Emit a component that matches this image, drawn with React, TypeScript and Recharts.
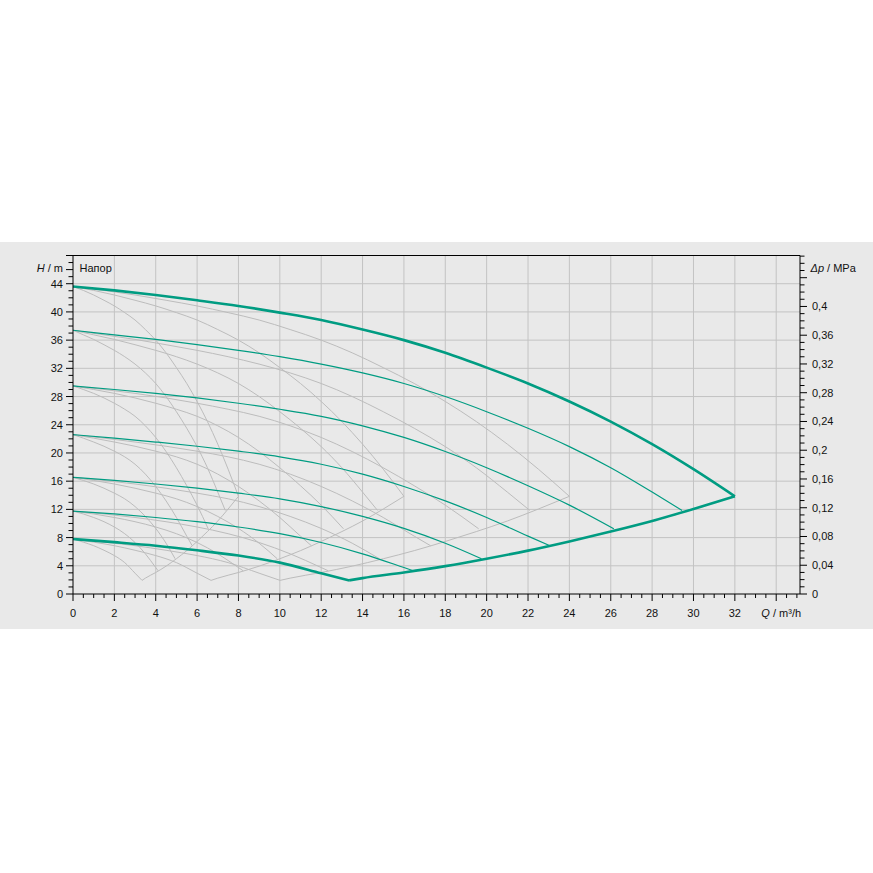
import React from 'react';
import { ComposedChart, Line, XAxis, YAxis, CartesianGrid, ReferenceLine } from 'recharts';

// ---- styles ----
const TEAL = '#009c82';
const GRAY = '#bcbcbc';
const GRID = '#c3c3c3';
const BG = '#e9e9e9';
const INK = '#111111';
const FONT = '"Liberation Sans", Arial, Helvetica, sans-serif';

// ---- axes ----
const Q_MAX = 35.15; // m³/h at right edge of plot
const H_MAX = 48; // m at top edge of plot
const MPA_PER_M = 0.00981;
const qTickLabels = [0, 2, 4, 6, 8, 10, 12, 14, 16, 18, 20, 22, 24, 26, 28, 30, 32];
const qGridLines = [2, 4, 6, 8, 10, 12, 14, 16, 18, 20, 22, 24, 26, 28, 30, 32, 34];
const qTitleAt = 34;
const hTickLabels = [0, 4, 8, 12, 16, 20, 24, 28, 32, 36, 40, 44];
const hGridLines = [4, 8, 12, 16, 20, 24, 28, 32, 36, 40, 44];
const hTitleAt = 46;
const pTickValues = [0, 0.04, 0.08, 0.12, 0.16, 0.2, 0.24, 0.28, 0.32, 0.36, 0.4];
const pTickLabels = ['0', '0,04', '0,08', '0,12', '0,16', '0,2', '0,24', '0,28', '0,32', '0,36', '0,4'];

// ---- pump curves at full operation (4 pumps): Q m³/h, H m ----
const maxCurve = [
  { q: 0, h: 43.6 }, { q: 2, h: 43.05 }, { q: 4, h: 42.4 }, { q: 6, h: 41.65 }, { q: 8, h: 40.85 },
  { q: 10, h: 39.9 }, { q: 12, h: 38.85 }, { q: 14, h: 37.5 }, { q: 16, h: 36.0 }, { q: 18, h: 34.2 },
  { q: 20, h: 32.1 }, { q: 22, h: 29.85 }, { q: 24, h: 27.3 }, { q: 26, h: 24.45 }, { q: 28, h: 21.25 },
  { q: 30, h: 17.7 }, { q: 32, h: 13.85 },
];
const curveA = [
  { q: 0, h: 37.4 }, { q: 2, h: 36.75 }, { q: 4, h: 36.1 }, { q: 6, h: 35.35 }, { q: 8, h: 34.55 },
  { q: 10, h: 33.65 }, { q: 12, h: 32.6 }, { q: 14, h: 31.35 }, { q: 16, h: 29.85 }, { q: 18, h: 28.0 },
  { q: 20, h: 25.85 }, { q: 22, h: 23.5 }, { q: 24, h: 20.9 }, { q: 26, h: 17.9 }, { q: 28, h: 14.45 },
  { q: 29.45, h: 11.85 },
];
const curveB = [
  { q: 0, h: 29.5 }, { q: 2, h: 29.0 }, { q: 4, h: 28.45 }, { q: 6, h: 27.8 }, { q: 8, h: 27.05 },
  { q: 10, h: 26.2 }, { q: 12, h: 25.2 }, { q: 14, h: 23.85 }, { q: 16, h: 22.2 }, { q: 18, h: 20.2 },
  { q: 20, h: 17.9 }, { q: 22, h: 15.35 }, { q: 24, h: 12.6 }, { q: 26.15, h: 9.25 },
];
const curveC = [
  { q: 0, h: 22.6 }, { q: 2, h: 22.1 }, { q: 4, h: 21.55 }, { q: 6, h: 20.95 }, { q: 8, h: 20.25 },
  { q: 10, h: 19.45 }, { q: 12, h: 18.4 }, { q: 14, h: 17.0 }, { q: 16, h: 15.25 }, { q: 18, h: 13.2 },
  { q: 20, h: 10.85 }, { q: 22, h: 8.2 }, { q: 23.05, h: 6.85 },
];
const curveD = [
  { q: 0, h: 16.55 }, { q: 2, h: 16.1 }, { q: 4, h: 15.6 }, { q: 6, h: 15.0 }, { q: 8, h: 14.3 },
  { q: 10, h: 13.5 }, { q: 12, h: 12.4 }, { q: 14, h: 11.0 }, { q: 16, h: 9.3 }, { q: 18, h: 7.2 },
  { q: 19.75, h: 5.0 },
];
const curveE = [
  { q: 0, h: 11.75 }, { q: 2, h: 11.35 }, { q: 4, h: 10.85 }, { q: 6, h: 10.25 }, { q: 8, h: 9.5 },
  { q: 10, h: 8.55 }, { q: 12, h: 7.3 }, { q: 14, h: 5.7 }, { q: 16, h: 3.75 }, { q: 16.45, h: 3.3 },
];
const minCurve = [
  { q: 0, h: 7.8 }, { q: 2, h: 7.35 }, { q: 4, h: 6.85 }, { q: 6, h: 6.2 }, { q: 8, h: 5.45 },
  { q: 10, h: 4.45 }, { q: 12, h: 2.95 }, { q: 13.35, h: 1.93 },
];
const lowerEnvelope = [
  { q: 13.35, h: 1.93 }, { q: 14, h: 2.25 }, { q: 16, h: 3.05 }, { q: 18, h: 3.95 }, { q: 20, h: 5.0 },
  { q: 22, h: 6.15 }, { q: 24, h: 7.45 }, { q: 26, h: 8.85 }, { q: 28, h: 10.35 }, { q: 30, h: 12.05 },
  { q: 32, h: 13.85 },
];

const thickCurves = [maxCurve, minCurve, lowerEnvelope];
const thinCurves = [curveA, curveB, curveC, curveD, curveE];

// grey curves: same characteristics with fewer pumps in operation
const totalPumps = 4;
const partialPumps = [1, 2, 3];

const allCurves = [...thickCurves, ...thinCurves];
const grayCurves = partialPumps.flatMap((n) =>
  allCurves.map((c) => c.map((p) => ({ q: (p.q * n) / totalPumps, h: p.h })))
);

// tick positions (every 0.5 m³/h, 1 m, 0.01 MPa)
const qTicks: number[] = [];
for (let i = 0; i <= 70; i++) qTicks.push(i / 2);
const hTicks: number[] = [];
for (let i = 0; i <= 48; i++) hTicks.push(i);
const pTicks: number[] = [];
for (let i = 0; i <= 47; i++) pTicks.push(i / 100);
const pTitleAt = hTitleAt * MPA_PER_M;
pTicks.push(pTitleAt);

const near = (a: number, b: number) => Math.abs(a - b) < 1e-6;

const XTick = (props: any) => {
  const { x, y, payload } = props;
  const v: number = payload.value;
  const major = near(v / 2, Math.round(v / 2));
  const li = qTickLabels.findIndex((t) => near(t, v));
  return (
    <g>
      <line x1={x} y1={y} x2={x} y2={y + (major ? 7 : 4)} stroke="#000" strokeWidth={1} />
      {li >= 0 && (
        <text x={x} y={y + 23} textAnchor="middle" fontSize={11} fontFamily={FONT} fill={INK}>
          {qTickLabels[li]}
        </text>
      )}
      {near(v, qTitleAt) && (
        <text x={x + 5} y={y + 23} textAnchor="middle" fontSize={11} fontFamily={FONT} fill={INK}>
          <tspan fontStyle="italic">Q</tspan> / m³/h
        </text>
      )}
    </g>
  );
};

const HTick = (props: any) => {
  const { x, y, payload } = props;
  const v: number = payload.value;
  const major = near(v % 4, 0) || near(v, 46) || near(v, 48);
  const li = hTickLabels.findIndex((t) => near(t, v));
  return (
    <g>
      <line x1={x} y1={y} x2={x - (major ? 7 : 4.5)} y2={y} stroke="#000" strokeWidth={1} />
      {li >= 0 && (
        <text x={x - 10} y={y + 4} textAnchor="end" fontSize={11} fontFamily={FONT} fill={INK}>
          {hTickLabels[li]}
        </text>
      )}
      {near(v, hTitleAt) && (
        <>
          <text x={x - 10} y={y + 2.5} textAnchor="end" fontSize={11} fontFamily={FONT} fill={INK}>
            <tspan fontStyle="italic">H</tspan> / m
          </text>
          <text x={x + 6.5} y={y + 2.5} textAnchor="start" fontSize={11} fontFamily={FONT} fill={INK}>
            Напор
          </text>
        </>
      )}
    </g>
  );
};

const PTick = (props: any) => {
  const { x, y, payload } = props;
  const v: number = payload.value;
  if (near(v, pTitleAt)) {
    return (
      <text x={x + 10.5} y={y + 2.5} textAnchor="start" fontSize={11} fontFamily={FONT} fill={INK}>
        <tspan fontStyle="italic">Δp</tspan> / MPa
      </text>
    );
  }
  const k = Math.round(v * 100);
  const major = k % 4 === 0;
  const li = pTickValues.findIndex((t) => near(t, v));
  return (
    <g>
      <line x1={x} y1={y} x2={x + (major ? 7 : 4.5)} y2={y} stroke="#000" strokeWidth={1} />
      {li >= 0 && (
        <text x={x + 12} y={y + 4} textAnchor="start" fontSize={11} fontFamily={FONT} fill={INK}>
          {pTickLabels[li]}
        </text>
      )}
    </g>
  );
};

export default function App() {
  return (
    <div style={{ position: 'absolute', left: 0, top: 0, width: 873, height: 873, background: '#ffffff' }}>
      <div style={{ position: 'absolute', left: 0, top: 242, width: 873, height: 387, background: BG }}>
        <ComposedChart width={873} height={387} margin={{ top: 13.5, right: 0, bottom: 0, left: 0 }}>
          <CartesianGrid
            xAxisId="q"
            yAxisId="h"
            stroke={GRID}
            strokeWidth={1}
            verticalValues={qGridLines}
            horizontalValues={hGridLines}
          />
          <XAxis
            xAxisId="q"
            type="number"
            dataKey="q"
            domain={[0, Q_MAX]}
            allowDataOverflow
            ticks={qTicks}
            interval={0}
            tickSize={0}
            tickMargin={0}
            tickLine={false}
            tick={<XTick />}
            axisLine={{ stroke: '#000', strokeWidth: 1 }}
            height={35}
          />
          <YAxis
            yAxisId="h"
            type="number"
            domain={[0, H_MAX]}
            allowDataOverflow
            ticks={hTicks}
            interval={0}
            tickSize={0}
            tickMargin={0}
            tickLine={false}
            tick={<HTick />}
            axisLine={{ stroke: '#000', strokeWidth: 1 }}
            width={73}
          />
          <YAxis
            yAxisId="p"
            orientation="right"
            type="number"
            domain={[0, H_MAX * MPA_PER_M]}
            allowDataOverflow
            ticks={pTicks}
            interval={0}
            tickSize={0}
            tickMargin={0}
            tickLine={false}
            tick={<PTick />}
            axisLine={{ stroke: '#000', strokeWidth: 1 }}
            width={73}
          />
          <ReferenceLine xAxisId="q" yAxisId="h" y={H_MAX} stroke="#000" strokeWidth={1} />
          {grayCurves.map((c, i) => (
            <Line
              key={'g' + i}
              name={'g' + i}
              data={c}
              dataKey="h"
              xAxisId="q"
              yAxisId="h"
              type="monotone"
              stroke={GRAY}
              strokeWidth={1}
              dot={false}
              activeDot={false}
              isAnimationActive={false}
            />
          ))}
          {thinCurves.map((c, i) => (
            <Line
              key={'t' + i}
              name={'t' + i}
              data={c}
              dataKey="h"
              xAxisId="q"
              yAxisId="h"
              type="monotone"
              stroke={TEAL}
              strokeWidth={1.2}
              dot={false}
              activeDot={false}
              isAnimationActive={false}
            />
          ))}
          {thickCurves.map((c, i) => (
            <Line
              key={'k' + i}
              name={'k' + i}
              data={c}
              dataKey="h"
              xAxisId="q"
              yAxisId="h"
              type="monotone"
              stroke={TEAL}
              strokeWidth={2.6}
              dot={false}
              activeDot={false}
              isAnimationActive={false}
            />
          ))}
        </ComposedChart>
      </div>
    </div>
  );
}
